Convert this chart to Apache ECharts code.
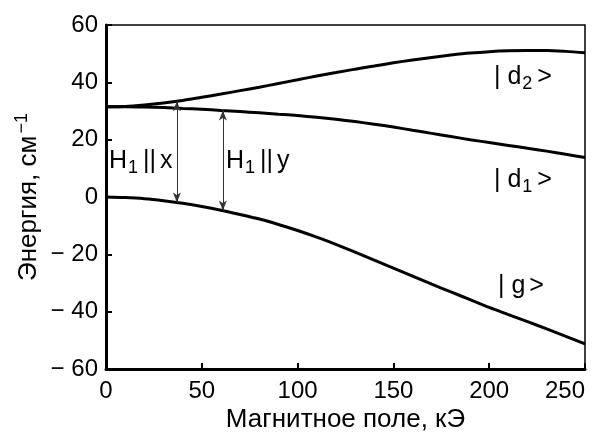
<!DOCTYPE html>
<html>
<head>
<meta charset="utf-8">
<script src="https://cdn.jsdelivr.net/npm/echarts@6/dist/echarts.min.js"></script>
<style>
html,body{margin:0;padding:0;background:#fff;}
#chart{width:596px;height:438px;}
</style>
</head>
<body>
<div id="chart"></div>
<script>
// Magnetic field, kOe
const fields = [0,10,20,30,40,50,60,70,80,90,100,110,120,130,140,150,160,170,180,190,200,210,220,230,240,250];
// Energy levels, cm^-1
const levelD2 = [31.5,31.6,32.1,32.8,33.7,34.8,35.9,37.1,38.3,39.6,40.9,42.2,43.4,44.6,45.7,46.8,47.8,48.7,49.5,50.2,50.7,51.0,51.1,51.1,50.8,50.3];
const levelD1 = [31.5,31.5,31.4,31.2,30.9,30.6,30.2,29.8,29.4,28.9,28.4,27.8,27.1,26.3,25.4,24.4,23.3,22.2,21.1,20.0,19.0,18.0,17.0,16.0,14.9,13.8];
const levelG  = [0,-0.2,-0.6,-1.3,-2.2,-3.3,-4.6,-6.1,-7.7,-9.6,-11.7,-14.0,-16.5,-19.2,-22.0,-24.8,-27.6,-30.4,-33.1,-35.8,-38.5,-41.0,-43.5,-46.0,-48.6,-51.2];
// Transition arrows
const arrowField = [37, 61];
const arrowLow   = [-1.9, -4.7];
const arrowHigh  = [33.4, 30.2];
const arrowAxis  = ['x', 'y'];
// State labels
const stateNames = ['d', 'd', 'g'];
const stateSubs  = ['2', '1', ''];
// Ticks
const xTicks = [0, 50, 100, 150, 200, 250];
const yTicks = [-60, -40, -20, 0, 20, 40, 60];

const FONT = '"Liberation Sans", Arial, Helvetica, sans-serif';
const chart = echarts.init(document.getElementById('chart'), null, {renderer:'canvas'});

function pairs(ys){ return fields.map((x,i)=>[x, ys[i]]); }
const lineStyle = {color:'#000', width:3};

const arrows = arrowField.map((f,i)=>[{coord:[f, arrowLow[i]]},{coord:[f, arrowHigh[i]]}]);

const richBase = {
  a: {fontFamily: FONT, fontSize: 25, color:'#000', lineHeight: 30},
  g: {fontFamily: FONT, fontSize: 25, color:'#000', lineHeight: 30, padding:[0,0,0,4]},
  s: {fontFamily: FONT, fontSize: 18, color:'#000', lineHeight: 30, padding:[13,1,0,1]}
};

function stateText(i){
  return '{a|| ' + stateNames[i] + '}' + (stateSubs[i] ? '{s|' + stateSubs[i] + '}' : '') + '{g|>}';
}
function transText(i){
  return '{a|H}{s|1}{g|||}{g|' + arrowAxis[i] + '}';
}

const option = {
  animation: false,
  backgroundColor: '#fff',
  grid: {left:106, right:11, top:25, bottom:64, show:true, borderColor:'#000', borderWidth:1.5, backgroundColor:'transparent'},
  xAxis: {
    type:'value', min: xTicks[0], max: xTicks[xTicks.length-1], interval: 50,
    name: 'Магнитное поле, кЭ', nameLocation:'middle', nameGap: 38, nameMoveOverlap: false,
    nameTextStyle: {fontFamily: FONT, fontSize: 26, color:'#000'},
    axisLine: {show:true, onZero:false, lineStyle:{color:'#000', width:3}},
    axisTick: {show:true, inside:true, length:6, lineStyle:{color:'#000', width:2}},
    axisLabel: {fontFamily: FONT, fontSize: 24, color:'#000', margin: 10, alignMaxLabel:'right'},
    splitLine: {show:false}
  },
  yAxis: {
    type:'value', min: yTicks[0], max: yTicks[yTicks.length-1], interval: 20,
    name: '{n|Энергия, см}{p|−1}', nameLocation:'middle', nameGap: 62, nameMoveOverlap: false,
    nameTextStyle: {fontFamily: FONT, fontSize: 26, color:'#000',
      rich: {
        n: {fontFamily: FONT, fontSize: 26, color:'#000', lineHeight: 30},
        p: {fontFamily: FONT, fontSize: 18, color:'#000', lineHeight: 30, padding:[0,0,14,2]}
      }},
    axisLine: {show:true, onZero:false, lineStyle:{color:'#000', width:3}},
    axisTick: {show:true, inside:true, length:6, lineStyle:{color:'#000', width:2}},
    axisLabel: {fontFamily: FONT, fontSize: 24, color:'#000', margin: 8,
      formatter: v => v < 0 ? '\u2212 ' + (-v) : String(v)},
    splitLine: {show:false}
  },
  series: [
    {type:'line', name:'d2', data: pairs(levelD2), smooth:0.3, showSymbol:false, symbol:'none', lineStyle: lineStyle, z:3},
    {type:'line', name:'d1', data: pairs(levelD1), smooth:0.3, showSymbol:false, symbol:'none', lineStyle: lineStyle, z:3},
    {type:'line', name:'g', data: pairs(levelG), smooth:0.3, showSymbol:false, symbol:'none', lineStyle: lineStyle, z:3,
      markLine: {
        silent: true, symbol:['arrow','arrow'], symbolSize:[6,10],
        label:{show:false},
        lineStyle:{color:'#333', width:1, type:'solid'},
        emphasis:{disabled:true},
        data: arrows
      }}
  ],
  graphic: [
    {type:'text', left:494, top:62, style:{text: stateText(0), rich: richBase}},
    {type:'text', left:494, top:165, style:{text: stateText(1), rich: richBase}},
    {type:'text', left:498, top:274, style:{text: stateText(2), rich: richBase}},
    {type:'text', left:109, top:146, style:{text: transText(0), rich: richBase}},
    {type:'text', left:226, top:146, style:{text: transText(1), rich: richBase}}
  ]
};
chart.setOption(option);
</script>
</body>
</html>
